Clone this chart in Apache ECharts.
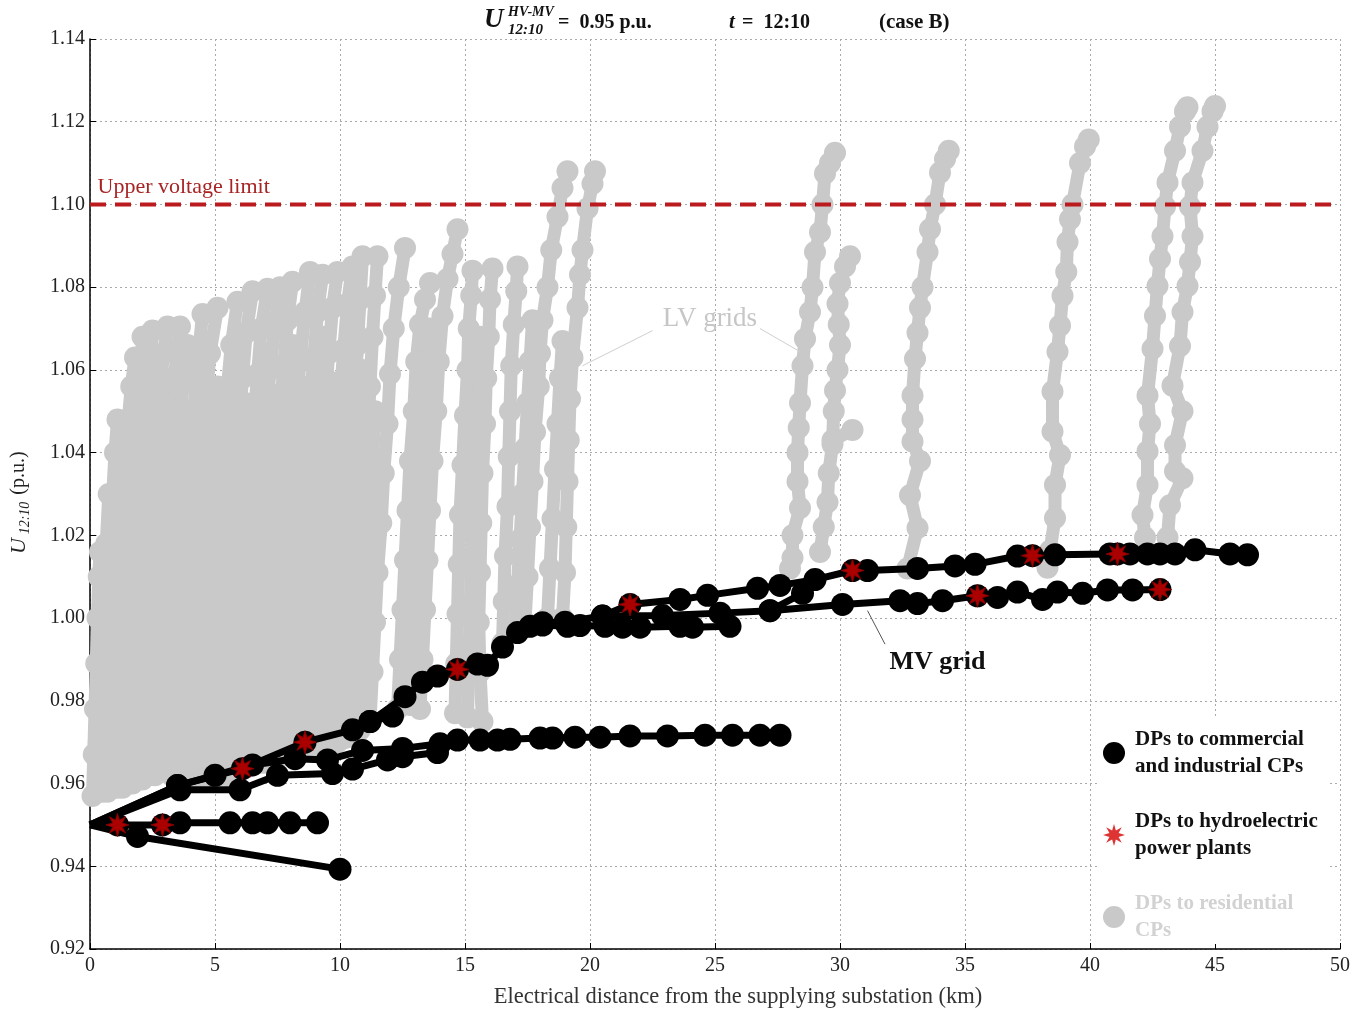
<!DOCTYPE html>
<html>
<head>
<meta charset="utf-8">
<title>Voltage profile MV/LV</title>
<script src="https://cdn.jsdelivr.net/npm/echarts@6/dist/echarts.min.js"></script>
<style>
html, body { margin: 0; padding: 0; background: #fff; }
#chart { width: 1365px; height: 1014px; }
</style>
</head>
<body>
<div id="chart"></div>
<script>
// axes: [min, max, step]
var xRange = [0, 50, 5];
var yRange = [0.92, 1.14, 0.02];
var upperLimit = 1.10;

// MV feeders, [distance km, voltage p.u.]
var mvFeederA = [[0,0.95],[3.5,0.9595],[6.1,0.9636],[8.6,0.970],[10.5,0.973],[11.2,0.975],[12.6,0.981],[13.3,0.9845],[13.9,0.986],[14.7,0.9876],[15.5,0.9889],[15.9,0.9886],[16.5,0.993],[17.1,0.9965],[18.1,0.9989],[19.0,0.999],[20.5,1.0005],[21.6,1.0033],[23.6,1.0045],[24.7,1.0055],[26.7,1.0072],[27.6,1.0079],[29.0,1.0093],[30.5,1.0115],[31.1,1.0115],[33.1,1.012],[34.6,1.0126],[35.4,1.013],[37.1,1.015],[37.7,1.0151],[38.6,1.0153],[40.8,1.0155],[41.1,1.0155],[41.6,1.0155],[42.3,1.0155],[42.8,1.0155],[43.4,1.0155],[44.2,1.0165],[45.6,1.0155],[46.3,1.0153]];
var mvFeederAspur = [[11.2,0.975],[12.1,0.9763]];
var mvFeederA2 = [[17.6,0.998],[18.1,0.9983],[19.1,0.998],[19.6,0.9982],[20.6,0.998],[21.3,0.9978],[22.0,0.9978],[23.6,0.998],[24.1,0.9978],[25.6,0.998]];
var mvFeederA3 = [[20.5,1.0005],[22.9,1.0006],[25.2,1.0012],[27.2,1.0018],[30.1,1.0033],[32.4,1.0042],[33.1,1.0035],[34.1,1.0042],[35.5,1.0054],[36.3,1.005],[37.1,1.0063],[38.1,1.0045],[38.7,1.0063],[39.7,1.006],[40.7,1.0068],[41.7,1.0068],[42.8,1.0069]];
var mvFeederA3spur = [[27.2,1.0018],[28.5,1.006]];
var mvFeederB = [[0,0.95],[3.6,0.9585],[6.0,0.9585],[7.5,0.962],[9.7,0.9624],[10.5,0.9635],[11.9,0.9657],[12.5,0.9665],[13.9,0.9675],[14.7,0.9705],[15.6,0.9705],[16.3,0.9705],[16.8,0.9707],[18.0,0.971],[18.5,0.971],[19.4,0.9712],[20.4,0.9712],[21.6,0.9715],[23.1,0.9715],[24.6,0.9717],[25.7,0.9717],[26.8,0.9717],[27.6,0.9717]];
var mvFeederC = [[0,0.95],[3.5,0.9595],[5.0,0.962],[6.5,0.9645],[8.2,0.966],[9.5,0.9657],[10.9,0.968],[12.5,0.9685],[14.0,0.9696]];
var mvFeederD = [[0,0.95],[1.1,0.95],[2.9,0.95],[3.6,0.9505],[5.6,0.9505],[6.5,0.9505],[7.1,0.9505],[8.0,0.9505],[9.1,0.9505]];
var mvFeederE = [[0,0.95],[1.9,0.9472],[10.0,0.9393]];

// DPs of hydroelectric plants
var hydroPoints = [[1.1,0.95],[2.9,0.95],[6.1,0.9636],[8.6,0.970],[14.7,0.9876],[21.6,1.0033],[30.5,1.0115],[37.7,1.0151],[41.1,1.0155],[35.5,1.0054],[42.8,1.0069]];

// LV grids, each feeder from its MV/LV station upwards
var lvNearSubstation = [
  [[0.1,0.957],[0.15,0.967],[0.2,0.978],[0.25,0.989],[0.3,1.000],[0.35,1.010],[0.4,1.016]],
  [[0.5,0.958],[0.55,0.969],[0.6,0.981],[0.7,0.993],[0.75,1.005],[0.85,1.017],[0.9,1.029],[1.0,1.040],[1.1,1.048]],
  [[0.9,0.959],[1.0,0.971],[1.05,0.984],[1.15,0.997],[1.25,1.010],[1.3,1.023],[1.4,1.035],[1.5,1.046],[1.65,1.056],[1.8,1.063]],
  [[1.3,0.959],[1.4,0.972],[1.45,0.986],[1.55,1.000],[1.65,1.014],[1.75,1.027],[1.85,1.040],[1.95,1.051],[2.05,1.060],[2.1,1.068]],
  [[1.7,0.960],[1.8,0.974],[1.85,0.988],[1.95,1.002],[2.05,1.016],[2.15,1.030],[2.25,1.043],[2.35,1.054],[2.45,1.063],[2.5,1.0695]],
  [[2.1,0.961],[2.2,0.975],[2.3,0.990],[2.4,1.004],[2.5,1.018],[2.6,1.032],[2.7,1.045],[2.8,1.056],[2.95,1.064],[3.1,1.0705]],
  [[2.6,0.962],[2.7,0.977],[2.8,0.992],[2.9,1.007],[3.0,1.021],[3.1,1.035],[3.2,1.047],[3.35,1.057],[3.5,1.065],[3.6,1.0705]],
  [[3.0,0.963],[3.1,0.978],[3.2,0.994],[3.3,1.009],[3.4,1.023],[3.5,1.037],[3.6,1.048],[3.75,1.058],[3.9,1.066]],
  [[3.5,0.961],[3.6,0.977],[3.7,0.993],[3.8,1.009],[3.9,1.024],[4.0,1.038],[4.15,1.050],[4.3,1.061],[4.5,1.0735]],
  [[4.0,0.961],[4.1,0.977],[4.2,0.993],[4.3,1.009],[4.4,1.025],[4.5,1.040],[4.65,1.053],[4.8,1.064],[5.1,1.075]]
];
var lvDense = [
  [[4.7,0.961],[4.8,0.973],[4.9,0.985],[5.0,0.997],[5.1,1.009],[5.2,1.021],[5.3,1.033],[5.4,1.045],[5.5,1.056],[5.65,1.066],[5.9,1.0765]],
  [[5.2,0.962],[5.3,0.974],[5.4,0.986],[5.5,0.998],[5.6,1.010],[5.7,1.022],[5.85,1.034],[5.95,1.046],[6.1,1.058],[6.25,1.069],[6.5,1.079]],
  [[5.8,0.963],[5.9,0.975],[6.0,0.987],[6.1,0.999],[6.2,1.011],[6.35,1.023],[6.45,1.035],[6.55,1.047],[6.7,1.059],[6.85,1.070],[7.1,1.0796]],
  [[6.3,0.964],[6.4,0.976],[6.5,0.988],[6.6,1.000],[6.75,1.012],[6.85,1.024],[6.95,1.036],[7.05,1.048],[7.2,1.060],[7.4,1.071],[7.6,1.080]],
  [[6.9,0.965],[7.0,0.977],[7.1,0.989],[7.2,1.001],[7.3,1.013],[7.4,1.025],[7.5,1.037],[7.6,1.049],[7.75,1.061],[7.9,1.072],[8.1,1.0813]],
  [[7.5,0.966],[7.6,0.978],[7.7,0.990],[7.8,1.002],[7.9,1.014],[8.0,1.026],[8.15,1.038],[8.25,1.050],[8.4,1.062],[8.6,1.074],[8.8,1.0837]],
  [[8.1,0.967],[8.2,0.979],[8.3,0.991],[8.4,1.003],[8.5,1.015],[8.6,1.027],[8.7,1.039],[8.8,1.051],[8.95,1.063],[9.1,1.074],[9.3,1.083]],
  [[8.7,0.968],[8.8,0.980],[8.9,0.992],[9.0,1.004],[9.1,1.016],[9.2,1.028],[9.3,1.040],[9.4,1.052],[9.55,1.064],[9.7,1.075],[9.9,1.0837]],
  [[9.3,0.969],[9.4,0.981],[9.5,0.993],[9.6,1.005],[9.7,1.017],[9.8,1.029],[9.9,1.041],[10.0,1.053],[10.15,1.065],[10.3,1.076],[10.5,1.085]],
  [[9.9,0.970],[10.0,0.982],[10.1,0.994],[10.2,1.006],[10.3,1.018],[10.4,1.030],[10.5,1.042],[10.6,1.054],[10.7,1.066],[10.8,1.077],[10.9,1.0875]],
  [[10.5,0.972],[10.6,0.984],[10.7,0.996],[10.8,1.008],[10.9,1.020],[11.0,1.032],[11.1,1.044],[11.2,1.056],[11.3,1.068],[11.4,1.078],[11.5,1.0875]],
  [[11.2,0.975],[11.3,0.987],[11.4,0.999],[11.5,1.011],[11.65,1.023],[11.75,1.035],[11.9,1.047],[12.0,1.059],[12.15,1.070],[12.35,1.080],[12.6,1.0895]]
];
// shorter LV feeders filling the lower part of the dense blocks
var lvShort = [
  [[0.3,0.958],[0.35,0.970],[0.45,0.982],[0.5,0.994],[0.6,1.006],[0.65,1.018],[0.75,1.030]],
  [[0.7,0.958],[0.8,0.971],[0.85,0.984],[0.95,0.997],[1.05,1.010],[1.1,1.023],[1.2,1.036],[1.3,1.046]],
  [[1.1,0.959],[1.2,0.972],[1.25,0.986],[1.35,1.000],[1.45,1.013],[1.55,1.026],[1.65,1.039],[1.75,1.050]],
  [[1.5,0.960],[1.6,0.974],[1.65,0.988],[1.75,1.002],[1.85,1.016],[1.95,1.030],[2.05,1.043],[2.2,1.055]],
  [[1.9,0.961],[2.0,0.975],[2.1,0.990],[2.2,1.004],[2.3,1.018],[2.4,1.032],[2.5,1.045],[2.6,1.056]],
  [[2.35,0.962],[2.45,0.977],[2.55,0.992],[2.65,1.006],[2.75,1.020],[2.85,1.034],[2.95,1.047],[3.1,1.058]],
  [[2.8,0.963],[2.9,0.978],[3.0,0.993],[3.1,1.008],[3.2,1.022],[3.3,1.036],[3.4,1.049]],
  [[3.25,0.962],[3.35,0.977],[3.45,0.993],[3.55,1.008],[3.65,1.023],[3.75,1.037],[3.9,1.050]],
  [[3.75,0.961],[3.85,0.977],[3.95,0.993],[4.05,1.009],[4.15,1.024],[4.25,1.038],[4.4,1.050]],
  [[4.4,0.961],[4.5,0.975],[4.6,0.989],[4.7,1.003],[4.8,1.017],[4.9,1.031],[5.0,1.045],[5.1,1.056]],
  [[5.0,0.962],[5.1,0.975],[5.2,0.988],[5.3,1.001],[5.4,1.014],[5.5,1.027],[5.6,1.040],[5.7,1.052],[5.85,1.062]],
  [[5.5,0.962],[5.6,0.975],[5.7,0.988],[5.8,1.001],[5.9,1.014],[6.0,1.027],[6.1,1.040],[6.2,1.052]],
  [[6.1,0.964],[6.2,0.977],[6.3,0.990],[6.4,1.003],[6.5,1.016],[6.6,1.029],[6.7,1.042],[6.85,1.055],[7.0,1.064]],
  [[6.6,0.965],[6.7,0.978],[6.8,0.991],[6.9,1.004],[7.0,1.017],[7.1,1.030],[7.2,1.043],[7.3,1.054]],
  [[7.2,0.966],[7.3,0.979],[7.4,0.992],[7.5,1.005],[7.6,1.018],[7.7,1.031],[7.8,1.044],[7.95,1.056],[8.1,1.066]],
  [[7.8,0.967],[7.9,0.980],[8.0,0.993],[8.1,1.006],[8.2,1.019],[8.3,1.032],[8.4,1.045],[8.5,1.056]],
  [[8.4,0.968],[8.5,0.981],[8.6,0.994],[8.7,1.007],[8.8,1.020],[8.9,1.033],[9.0,1.046],[9.15,1.058],[9.3,1.068]],
  [[9.0,0.969],[9.1,0.982],[9.2,0.995],[9.3,1.008],[9.4,1.021],[9.5,1.034],[9.6,1.047],[9.7,1.057]],
  [[9.6,0.970],[9.7,0.983],[9.8,0.996],[9.9,1.009],[10.0,1.022],[10.1,1.035],[10.2,1.048],[10.35,1.060],[10.5,1.070]],
  [[10.2,0.971],[10.3,0.984],[10.4,0.997],[10.5,1.010],[10.6,1.023],[10.7,1.036],[10.8,1.049],[10.9,1.060]],
  [[10.8,0.973],[10.9,0.986],[11.0,0.999],[11.1,1.012],[11.2,1.025],[11.3,1.038],[11.4,1.050]],
  [[12.8,0.979],[12.9,0.991],[13.0,1.003],[13.1,1.015],[13.2,1.027],[13.3,1.039],[13.4,1.051],[13.5,1.062],[13.6,1.070]],
  [[15.1,0.976],[15.15,0.988],[15.2,1.000],[15.25,1.012],[15.3,1.024],[15.35,1.036],[15.45,1.048],[15.5,1.059],[15.6,1.068]],
  [[17.0,0.997],[17.1,1.008],[17.2,1.019],[17.3,1.030],[17.4,1.041],[17.5,1.052],[17.6,1.062],[17.7,1.072]],
  [[18.3,1.000],[18.4,1.012],[18.5,1.024],[18.6,1.036],[18.7,1.047],[18.8,1.058],[18.9,1.067]]
];
var lvMiddle = [
  [[12.3,0.978],[12.4,0.990],[12.5,1.002],[12.6,1.014],[12.7,1.026],[12.8,1.038],[12.95,1.050],[13.05,1.062],[13.2,1.071],[13.4,1.077],[13.6,1.081]],
  [[13.2,0.978],[13.3,0.990],[13.4,1.002],[13.5,1.014],[13.6,1.026],[13.7,1.038],[13.85,1.050],[13.95,1.062],[14.1,1.073],[14.3,1.082],[14.5,1.088],[14.7,1.094]],
  [[14.6,0.977],[14.65,0.989],[14.7,1.001],[14.75,1.013],[14.8,1.025],[14.9,1.037],[15.0,1.049],[15.1,1.060],[15.15,1.070],[15.25,1.078],[15.3,1.084]],
  [[15.7,0.975],[15.6,0.987],[15.55,0.999],[15.6,1.011],[15.65,1.023],[15.7,1.035],[15.8,1.047],[15.85,1.058],[15.95,1.068],[16.0,1.077],[16.1,1.0845]],
  [[16.5,0.994],[16.55,1.004],[16.6,1.015],[16.7,1.027],[16.75,1.039],[16.8,1.050],[16.85,1.061],[16.95,1.071],[17.05,1.079],[17.1,1.085]],
  [[17.4,0.999],[17.5,1.010],[17.6,1.022],[17.7,1.033],[17.8,1.045],[17.95,1.056],[18.0,1.064],[18.1,1.072],[18.3,1.080],[18.45,1.089],[18.7,1.097],[18.9,1.104],[19.1,1.108]],
  [[18.9,1.000],[19.0,1.011],[19.05,1.022],[19.1,1.033],[19.15,1.043],[19.2,1.053],[19.3,1.063],[19.5,1.075],[19.6,1.083],[19.7,1.089],[19.9,1.099],[20.1,1.105],[20.2,1.108]]
];
var lvFar = [
  [[28.0,1.012],[28.1,1.0146],[28.1,1.020],[28.4,1.0266],[28.3,1.033],[28.3,1.040],[28.35,1.046],[28.4,1.052],[28.5,1.061],[28.6,1.0675],[28.8,1.074],[28.9,1.080],[29.0,1.0885],[29.2,1.0933],[29.3,1.100],[29.4,1.1075],[29.6,1.110],[29.8,1.1125]],
  [[29.2,1.016],[29.35,1.022],[29.5,1.028],[29.55,1.035],[29.7,1.042],[29.75,1.050],[29.8,1.055],[29.9,1.060],[30.0,1.066],[29.95,1.071],[29.9,1.076],[30.0,1.081],[30.2,1.085],[30.4,1.0875]],
  [[29.7,1.043],[30.5,1.0455]],
  [[32.7,1.012],[33.1,1.0218],[32.8,1.0297],[33.2,1.038],[32.9,1.0427],[32.9,1.048],[32.9,1.0538],[33.0,1.0627],[33.1,1.069],[33.2,1.075],[33.3,1.080],[33.5,1.0885],[33.6,1.094],[33.8,1.100],[34.0,1.1077],[34.2,1.111],[34.35,1.113]],
  [[38.3,1.0122],[38.4,1.0163],[38.6,1.0242],[38.6,1.0322],[38.8,1.0394],[38.5,1.0451],[38.5,1.0548],[38.7,1.0644],[38.8,1.0707],[38.9,1.0779],[39.05,1.0837],[39.1,1.0909],[39.2,1.0964],[39.3,1.100],[39.6,1.110],[39.8,1.114],[39.95,1.1157]],
  [[42.2,1.0195],[42.1,1.0249],[42.3,1.0322],[42.3,1.0403],[42.4,1.047],[42.3,1.0538],[42.5,1.0651],[42.6,1.0731],[42.7,1.0803],[42.8,1.0868],[42.9,1.0923],[43.0,1.0995],[43.1,1.1053],[43.4,1.113],[43.6,1.1188],[43.8,1.1225],[43.9,1.1235]],
  [[43.1,1.0195],[43.2,1.0273],[43.7,1.0338],[43.4,1.0355],[43.4,1.0418],[43.7,1.050],[43.3,1.0562],[43.6,1.0658],[43.7,1.074],[43.9,1.0803],[44.0,1.0861],[44.1,1.0923],[44.0,1.0995],[44.1,1.1053],[44.5,1.113],[44.7,1.1188],[44.9,1.1225],[45.0,1.1238]]
];

var FONT = '"Liberation Serif", "DejaVu Serif", serif';
var nameCom = 'DPs to commercial\nand industrial CPs';
var nameHydro = 'DPs to hydroelectric\npower plants';
var nameRes = 'DPs to residential\nCPs';
var starPath = 'path://M20 10L14.16 11.72L17.07 17.07L11.72 14.16L10 20L8.28 14.16L2.93 17.07L5.84 11.72L0 10L5.84 8.28L2.93 2.93L8.28 5.84L10 0L11.72 5.84L17.07 2.93L14.16 8.28Z';
var LV_GRAY = '#c9c9c9';

function lvSeries(points) {
    return {
        name: nameRes,
        type: 'line',
        data: points,
        z: 1,
        symbol: 'circle',
        symbolSize: 22,
        showAllSymbol: true,
        itemStyle: { color: LV_GRAY },
        lineStyle: { color: LV_GRAY, width: 13 },
        silent: true,
        animation: false
    };
}

function mvSeries(points) {
    return {
        name: nameCom,
        type: 'line',
        z: 3,
        // no marker on the substation busbar itself
        data: points.map(function (p) {
            return p[0] === 0 ? { value: p, symbolSize: 0 } : p;
        }),
        symbol: 'circle',
        symbolSize: 23,
        showAllSymbol: true,
        itemStyle: { color: '#000' },
        lineStyle: { color: '#000', width: 7 },
        animation: false
    };
}

var series = [];
[lvNearSubstation, lvShort, lvDense, lvMiddle, lvFar].forEach(function (group) {
    group.forEach(function (line) { series.push(lvSeries(line)); });
});
series.push({
    name: 'Upper voltage limit',
    type: 'line',
    z: 2,
    data: [[xRange[0], upperLimit], [xRange[1], upperLimit]],
    symbol: 'none',
    lineStyle: { color: '#bb1a1e', width: 4, type: [16, 9] },
    silent: true,
    animation: false
});
[mvFeederE, mvFeederD, mvFeederC, mvFeederB, mvFeederA3, mvFeederA3spur, mvFeederA2, mvFeederAspur, mvFeederA].forEach(function (f) {
    series.push(mvSeries(f));
});
series.push({
    name: nameHydro,
    type: 'scatter',
    z: 5,
    data: hydroPoints,
    symbol: starPath,
    symbolSize: 23,
    itemStyle: { color: '#d40000', borderColor: '#8a0000', borderWidth: 1 },
    animation: false
});

var chart = echarts.init(document.getElementById('chart'));
var option = {
    backgroundColor: '#fff',
    animation: false,
    grid: { left: 90, right: 25, top: 39, bottom: 61 },
    xAxis: {
        type: 'value',
        min: xRange[0], max: xRange[1], interval: xRange[2],
        name: 'Electrical distance from the supplying substation (km)',
        nameLocation: 'middle',
        nameGap: 37,
        nameTextStyle: { fontFamily: FONT, fontSize: 22.5, color: '#333', padding: [0, 0, 0, 46] },
        axisLine: { lineStyle: { color: '#000', width: 1.5 } },
        axisTick: { inside: true, length: 6, lineStyle: { color: '#000' } },
        axisLabel: { fontFamily: FONT, fontSize: 20, color: '#222', margin: 7 },
        splitLine: { show: true, lineStyle: { color: '#aaa', type: [2, 3], width: 1 } }
    },
    yAxis: {
        type: 'value',
        min: yRange[0], max: yRange[1], interval: yRange[2],
        axisLine: { show: true, lineStyle: { color: '#000', width: 1.5 } },
        axisTick: { show: true, inside: true, length: 6, lineStyle: { color: '#000' } },
        axisLabel: {
            fontFamily: FONT, fontSize: 20, color: '#222', margin: 5,
            formatter: function (v) { return v.toFixed(2); }
        },
        splitLine: { show: true, lineStyle: { color: '#aaa', type: [2, 3], width: 1 } }
    },
    legend: {
        orient: 'vertical',
        left: 1097,
        top: 716,
        backgroundColor: '#fff',
        padding: [10, 12, 0, 6],
        itemWidth: 22,
        itemHeight: 22,
        itemGap: 28,
        selectedMode: false,
        itemStyle: { borderWidth: 0 },
        textStyle: { fontFamily: FONT, fontSize: 21, fontWeight: 'bold', color: '#111', lineHeight: 27, padding: [0, 0, 0, 5] },
        data: [
            { name: nameCom, icon: 'circle' },
            { name: nameHydro, icon: starPath },
            { name: nameRes, icon: 'circle', textStyle: { color: '#d2d2d2' } }
        ]
    },
    series: series
};
chart.setOption(option);

// annotations, positioned in data coordinates
var lvLabelAt = [24.8, 1.0723];
var lvLeaderA = [[22.5, 1.0695], [19.7, 1.061]];
var lvLeaderB = [[26.8, 1.070], [28.4, 1.0644]];
var mvLabelAt = [33.9, 0.9893];
var mvLeader = [[31.1, 1.0018], [31.8, 0.9937]];
var limitLabelAt = [0.3, 1.1041];

function px(p) { return chart.convertToPixel({ gridIndex: 0 }, p); }
function leader(seg, color) {
    var a = px(seg[0]), b = px(seg[1]);
    return { type: 'line', z: 50, shape: { x1: a[0], y1: a[1], x2: b[0], y2: b[1] }, style: { stroke: color, lineWidth: 1 } };
}
function label(at, text, style) {
    var p = px(at);
    return { type: 'text', z: 50, x: p[0], y: p[1], style: Object.assign({ text: text, fontFamily: FONT, verticalAlign: 'middle' }, style) };
}

var graphic = [
    label(lvLabelAt, 'LV grids', { fontSize: 27, fill: '#c6c6c6', align: 'center' }),
    leader(lvLeaderA, '#cfcfcf'),
    leader(lvLeaderB, '#cfcfcf'),
    label(mvLabelAt, 'MV grid', { fontSize: 26, fontWeight: 'bold', fill: '#111', align: 'center' }),
    leader(mvLeader, '#555'),
    label(limitLabelAt, 'Upper voltage limit', { fontSize: 22, fill: '#a82424', align: 'left' }),
    // header line
    { type: 'text', x: 484, y: 34, style: { text: 'U', fontFamily: FONT, fontSize: 27, fontStyle: 'italic', fontWeight: 'bold', fill: '#111', verticalAlign: 'bottom' } },
    { type: 'text', x: 508, y: 12, style: { text: 'HV-MV', fontFamily: FONT, fontSize: 14, fontStyle: 'italic', fontWeight: 'bold', fill: '#111', verticalAlign: 'middle' } },
    { type: 'text', x: 508, y: 30, style: { text: '12:10', fontFamily: FONT, fontSize: 15, fontStyle: 'italic', fontWeight: 'bold', fill: '#111', verticalAlign: 'middle' } },
    { type: 'text', x: 558, y: 23, style: { text: '=  0.95 p.u.', fontFamily: FONT, fontSize: 20, fontWeight: 'bold', fill: '#111', verticalAlign: 'middle' } },
    { type: 'text', x: 729, y: 23, style: { text: 't', fontFamily: FONT, fontSize: 21, fontStyle: 'italic', fontWeight: 'bold', fill: '#111', verticalAlign: 'middle' } },
    { type: 'text', x: 742, y: 23, style: { text: '=  12:10', fontFamily: FONT, fontSize: 20, fontWeight: 'bold', fill: '#111', verticalAlign: 'middle' } },
    { type: 'text', x: 879, y: 23, style: { text: '(case B)', fontFamily: FONT, fontSize: 21, fontWeight: 'bold', fill: '#111', verticalAlign: 'middle' } },
    // y axis title, rotated
    { type: 'text', x: 19, y: 546, rotation: Math.PI / 2, style: { text: 'U', fontFamily: FONT, fontSize: 22, fontStyle: 'italic', fill: '#222', align: 'center', verticalAlign: 'middle' } },
    { type: 'text', x: 25, y: 518, rotation: Math.PI / 2, style: { text: '12:10', fontFamily: FONT, fontSize: 14, fontStyle: 'italic', fill: '#222', align: 'center', verticalAlign: 'middle' } },
    { type: 'text', x: 19, y: 473, rotation: Math.PI / 2, style: { text: '(p.u.)', fontFamily: FONT, fontSize: 20, fill: '#222', align: 'center', verticalAlign: 'middle' } }
];
chart.setOption({ graphic: graphic });
window.onresize = chart.resize;
</script>
</body>
</html>
